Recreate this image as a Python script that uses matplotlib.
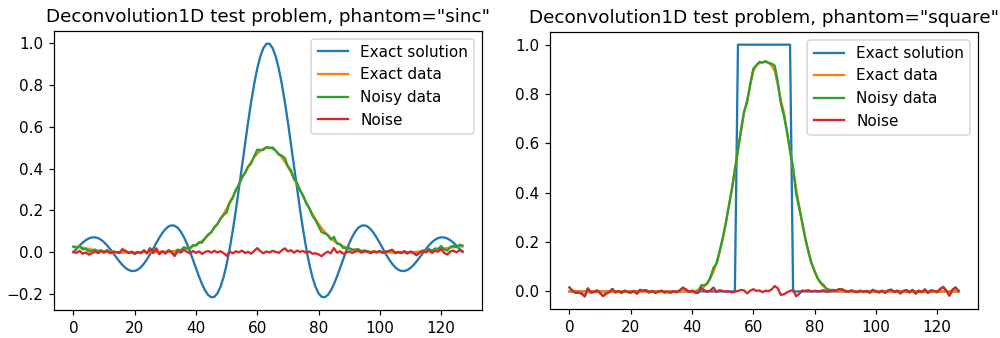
import matplotlib.pyplot as plt

# sample index 0..127
n_points = 128
grid = list(range(n_points))

# phantom = "sinc"
sinc_solution = [
    0.0000, 0.0158, 0.0312, 0.0452, 0.0568, 0.0653, 0.0700, 0.0706, 0.0669, 0.0588,
    0.0468, 0.0314, 0.0135, -0.0059, -0.0258, -0.0449, -0.0620, -0.0760, -0.0859, -0.0908,
    -0.0904, -0.0843, -0.0726, -0.0558, -0.0347, -0.0104, 0.0159, 0.0427, 0.0683, 0.0911,
    0.1095, 0.1223, 0.1281, 0.1263, 0.1164, 0.0984, 0.0730, 0.0410, 0.0039, -0.0364,
    -0.0779, -0.1181, -0.1545, -0.1847, -0.2060, -0.2165, -0.2142, -0.1979, -0.1665, -0.1201,
    -0.0589, 0.0160, 0.1028, 0.1993, 0.3028, 0.4099, 0.5173, 0.6215, 0.7188, 0.8059,
    0.8797, 0.9375, 0.9772, 0.9975, 0.9975, 0.9772, 0.9375, 0.8797, 0.8059, 0.7188,
    0.6215, 0.5173, 0.4099, 0.3028, 0.1993, 0.1028, 0.0160, -0.0589, -0.1201, -0.1665,
    -0.1979, -0.2142, -0.2165, -0.2060, -0.1847, -0.1545, -0.1181, -0.0779, -0.0364, 0.0039,
    0.0410, 0.0730, 0.0984, 0.1164, 0.1263, 0.1281, 0.1223, 0.1095, 0.0911, 0.0683,
    0.0427, 0.0159, -0.0104, -0.0347, -0.0558, -0.0726, -0.0843, -0.0904, -0.0908, -0.0859,
    -0.0760, -0.0620, -0.0449, -0.0258, -0.0059, 0.0135, 0.0314, 0.0468, 0.0588, 0.0669,
    0.0706, 0.0700, 0.0653, 0.0568, 0.0452, 0.0312, 0.0158, 0.0000,
]
sinc_data = [
    0.026, 0.025, 0.023, 0.021, 0.018, 0.015, 0.012, 0.009, 0.007, 0.005,
    0.003, 0.002, 0.001, 0.000, -0.001, -0.001, -0.002, -0.002, -0.002, -0.002,
    -0.002, -0.001, -0.001, 0.000, 0.000, 0.000, 0.000, 0.000, 0.001, 0.001,
    0.002, 0.003, 0.004, 0.006, 0.008, 0.010, 0.013, 0.017, 0.022, 0.028,
    0.035, 0.044, 0.054, 0.066, 0.080, 0.097, 0.115, 0.135, 0.158, 0.182,
    0.208, 0.236, 0.265, 0.294, 0.324, 0.353, 0.382, 0.408, 0.432, 0.454,
    0.471, 0.485, 0.495, 0.500, 0.500, 0.495, 0.485, 0.471, 0.454, 0.432,
    0.408, 0.382, 0.353, 0.324, 0.294, 0.265, 0.236, 0.208, 0.182, 0.158,
    0.135, 0.115, 0.097, 0.080, 0.066, 0.054, 0.044, 0.035, 0.028, 0.022,
    0.017, 0.013, 0.010, 0.008, 0.006, 0.004, 0.003, 0.002, 0.001, 0.001,
    0.000, -0.001, -0.001, -0.002, -0.002, -0.002, -0.002, -0.002, -0.001, -0.001,
    0.000, 0.000, 0.001, 0.002, 0.003, 0.005, 0.007, 0.009, 0.011, 0.013,
    0.015, 0.017, 0.019, 0.021, 0.023, 0.025, 0.026, 0.027,
]
sinc_noisy = [
    0.026, 0.021, 0.029, 0.013, 0.016, 0.003, 0.006, 0.012, 0.002, 0.009,
    0.000, 0.009, -0.005, 0.002, -0.001, -0.005, 0.012, 0.004, -0.005, 0.000,
    -0.010, 0.000, -0.006, 0.008, -0.006, 0.018, -0.004, 0.017, -0.009, 0.004,
    -0.005, 0.009, 0.002, -0.013, 0.012, 0.007, 0.023, 0.019, 0.016, 0.033,
    0.031, 0.047, 0.045, 0.067, 0.085, 0.094, 0.121, 0.133, 0.162, 0.177,
    0.190, 0.238, 0.259, 0.298, 0.322, 0.360, 0.378, 0.409, 0.424, 0.460,
    0.490, 0.489, 0.489, 0.503, 0.498, 0.501, 0.486, 0.467, 0.462, 0.450,
    0.411, 0.391, 0.350, 0.331, 0.295, 0.270, 0.232, 0.211, 0.174, 0.152,
    0.124, 0.095, 0.090, 0.082, 0.060, 0.073, 0.041, 0.039, 0.020, 0.020,
    0.020, 0.009, 0.012, 0.014, 0.003, 0.008, 0.004, -0.003, 0.004, -0.001,
    0.005, -0.004, 0.001, 0.004, 0.009, -0.006, -0.001, -0.005, 0.003, -0.007,
    0.002, -0.005, -0.014, -0.001, 0.008, 0.003, 0.015, 0.005, 0.017, 0.015,
    0.029, 0.013, 0.007, 0.024, 0.030, 0.023, 0.035, 0.031,
]
sinc_noise = [
    0.000, -0.004, 0.006, -0.008, -0.002, -0.012, -0.006, 0.003, -0.005, 0.004,
    -0.003, 0.007, -0.006, 0.002, 0.000, -0.004, 0.014, 0.006, -0.003, 0.002,
    -0.008, 0.001, -0.005, 0.008, -0.006, 0.018, -0.004, 0.017, -0.010, 0.003,
    -0.007, 0.006, -0.002, -0.019, 0.004, -0.003, 0.010, 0.002, -0.006, 0.005,
    -0.004, 0.003, -0.009, 0.001, 0.005, -0.003, 0.006, -0.002, 0.004, -0.005,
    -0.018, 0.002, -0.006, 0.004, -0.002, 0.007, -0.004, 0.001, -0.008, 0.006,
    0.019, 0.004, -0.006, 0.003, -0.002, 0.006, 0.001, -0.004, 0.008, 0.018,
    0.003, 0.009, -0.003, 0.007, 0.001, 0.005, -0.004, 0.003, -0.008, -0.006,
    -0.011, -0.020, -0.007, 0.002, -0.006, 0.019, -0.003, 0.004, -0.008, -0.002,
    0.003, -0.004, 0.002, 0.006, -0.003, 0.004, 0.001, -0.005, 0.003, -0.002,
    0.005, -0.003, 0.002, 0.006, 0.011, -0.004, 0.001, -0.003, 0.004, -0.006,
    0.002, -0.005, -0.015, -0.003, 0.005, -0.002, 0.008, -0.004, 0.006, 0.002,
    0.014, -0.004, -0.012, 0.003, 0.007, -0.002, 0.009, 0.004,
]

# phantom = "square"
square_solution = [0.0] * 55 + [1.0] * 18 + [0.0] * 55
square_data = [0.0] * 41 + [
    0.002, 0.005, 0.011, 0.020, 0.034, 0.053, 0.080, 0.115, 0.158,
    0.212, 0.275, 0.345, 0.415, 0.495, 0.570, 0.650, 0.725, 0.775, 0.837,
    0.893, 0.915, 0.926, 0.930, 0.930, 0.926, 0.915, 0.893, 0.837, 0.775,
    0.725, 0.650, 0.570, 0.495, 0.415, 0.345, 0.275, 0.212, 0.158, 0.115,
    0.080, 0.053, 0.034, 0.020, 0.011, 0.005, 0.002,
] + [0.0] * 41
square_noisy = [
    0.016, 0.002, -0.006, -0.004, -0.009, -0.020, 0.012, -0.005, -0.002, 0.004,
    -0.007, -0.019, -0.008, -0.003, 0.010, -0.004, 0.001, -0.006, 0.003, -0.002,
    -0.005, 0.002, -0.009, 0.006, 0.003, 0.005, -0.004, 0.002, -0.006, -0.001,
    0.003, -0.004, -0.002, -0.005, 0.001, -0.003, 0.004, 0.015, 0.008, -0.002,
    0.003, -0.003, -0.001, 0.025, 0.025, 0.032, 0.057, 0.096, 0.112, 0.163,
    0.214, 0.274, 0.345, 0.411, 0.494, 0.572, 0.656, 0.729, 0.767, 0.840,
    0.902, 0.917, 0.930, 0.927, 0.933, 0.927, 0.923, 0.915, 0.850, 0.761,
    0.713, 0.646, 0.572, 0.501, 0.395, 0.336, 0.279, 0.214, 0.163, 0.114,
    0.083, 0.053, 0.036, 0.025, 0.009, 0.006, 0.006, 0.003, 0.009, 0.008,
    0.002, -0.001, 0.004, 0.000, -0.003, 0.003, -0.002, 0.002, -0.005, 0.006,
    0.001, -0.004, 0.003, -0.006, 0.004, 0.007, -0.002, 0.003, -0.008, 0.002,
    0.005, -0.004, 0.006, -0.009, 0.003, -0.003, 0.008, -0.006, 0.004, 0.002,
    -0.003, 0.010, 0.018, 0.003, -0.017, 0.006, 0.016, 0.002,
]
square_noise = [
    0.016, 0.002, -0.006, -0.004, -0.009, -0.020, 0.012, -0.005, -0.002, 0.004,
    -0.007, -0.019, -0.008, -0.003, 0.010, -0.004, 0.001, -0.006, 0.003, -0.002,
    -0.005, 0.002, -0.009, 0.006, 0.003, 0.005, -0.004, 0.002, -0.006, -0.001,
    0.003, -0.004, -0.002, -0.005, 0.001, -0.003, 0.004, 0.015, 0.008, -0.002,
    0.003, -0.005, -0.006, 0.014, 0.005, -0.002, 0.004, 0.016, -0.003, 0.005,
    0.002, -0.001, 0.000, -0.004, -0.001, 0.002, 0.006, 0.004, -0.008, 0.003,
    0.009, 0.002, 0.004, -0.003, 0.003, 0.001, 0.008, 0.022, 0.013, -0.014,
    -0.012, -0.004, 0.002, 0.006, -0.020, -0.009, 0.004, 0.002, 0.005, -0.001,
    0.003, 0.000, 0.002, 0.005, -0.002, 0.001, 0.004, 0.003, 0.009, 0.008,
    0.002, -0.001, 0.004, 0.000, -0.003, 0.003, -0.002, 0.002, -0.005, 0.006,
    0.001, -0.004, 0.003, -0.006, 0.004, 0.007, -0.002, 0.003, -0.008, 0.002,
    0.005, -0.004, 0.006, -0.009, 0.003, -0.003, 0.008, -0.006, 0.004, 0.002,
    -0.003, 0.010, 0.018, 0.003, -0.017, 0.006, 0.016, 0.002,
]

# reference looks like a notebook figure rendered at ~110 dpi
dpi = 110
fig, axes = plt.subplots(1, 2, figsize=(1000 / dpi, 338 / dpi), dpi=dpi)
axes[0].set_position([0.054, 0.083, 0.428, 0.825])
axes[1].set_position([0.550, 0.086, 0.428, 0.819])

panels = [
    ("sinc", sinc_solution, sinc_data, sinc_noisy, sinc_noise),
    ("square", square_solution, square_data, square_noisy, square_noise),
]

for ax, (name, sol, data, noisy, noise) in zip(axes, panels):
    ax.plot(grid, sol, label="Exact solution")
    ax.plot(grid, data, label="Exact data")
    ax.plot(grid, noisy, label="Noisy data")
    ax.plot(grid, noise, label="Noise")
    ax.set_title(f'Deconvolution1D test problem, phantom="{name}"', fontsize=12)
    ax.legend(loc="upper right", fontsize=10)
    ax.tick_params(labelsize=10)

plt.savefig("out.png", dpi=dpi)
